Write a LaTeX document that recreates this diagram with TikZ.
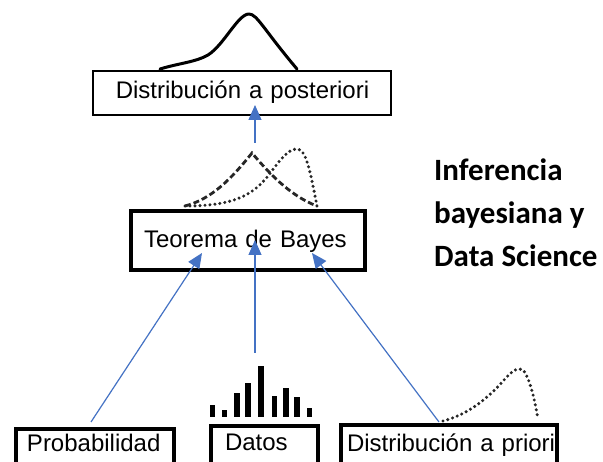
\documentclass[tikz,border=0pt]{standalone}
\usepackage{fontspec}
\setmainfont{Liberation Sans}
\newfontfamily\titlefont{Carlito}
\usetikzlibrary{arrows.meta}
\definecolor{arrblue}{HTML}{4472C4}
\begin{document}
\begin{tikzpicture}[x=1pt,y=-1pt,
  boxbase/.style={draw=black, anchor=base west, align=left, inner ysep=0pt,
    font=\fontsize{24}{28}\selectfont},
  thinbox/.style={boxbase, line width=1.5pt},
  thickbox/.style={boxbase, line width=4pt},
  arr/.style={draw=arrblue, line width=1.2pt, -{Triangle[length=15pt,width=13pt]}},
  curvesolid/.style={draw=black, line width=3pt, line join=round, line cap=round},
  curvedash/.style={draw=black!85, line width=2.8pt, dash pattern=on 6pt off 3pt},
  curvedot/.style={draw=black!85, line width=3.4pt, line cap=round, dash pattern=on 0pt off 5pt},
  bar/.style={fill=black}
]
\useasboundingbox (0,0) rectangle (603,462);
\fill[white] (0,0) rectangle (603,462);
\clip (0,0) rectangle (603,462);

% boxes
\node[thinbox, inner xsep=23pt, text width=252pt, text height=28pt, text depth=16pt]
  (post) at (92,99) {\mbox{Distribución a posteriori}};
\node[thickbox, inner xsep=13pt, text width=208pt, text height=37pt, text depth=22pt]
  (bayes) at (129,248) {\mbox{Teorema de Bayes}};
\node[thickbox, inner xsep=11pt, text width=136pt, text height=23pt, text depth=32pt]
  (prob) at (14,452) {\mbox{Probabilidad}};
\node[thickbox, inner xsep=14pt, text width=79pt, text height=24pt, text depth=32pt]
  (datos) at (209,450) {\mbox{Datos}};
\node[thickbox, inner xsep=6pt, text width=204pt, text height=27pt, text depth=32pt]
  (priori) at (339,452) {\mbox{Distribución a priori}};

% title
\node[anchor=north west, align=left, inner sep=0pt,
  font=\titlefont\bfseries\fontsize{31}{43}\selectfont]
  (title) at (434,159) {Inferencia\\bayesiana y\\Data Science};

% posterior curve
\draw[curvesolid] (160,69) .. controls (180,63) and (196,62) .. (208,55)
  .. controls (224,45) and (238,14) .. (249,14)
  .. controls (257,14) and (264,30) .. (297,69);

% bayes curves
\draw[curvedash] (185,206) .. controls (212,199) and (232,178) .. (252,153)
  .. controls (268,172) and (290,196) .. (317,206);
\draw[curvedot] (185,206) .. controls (232,206) and (252,196) .. (268,176)
  .. controls (280,160) and (288,149) .. (297,149)
  .. controls (306,149) and (310,170) .. (317,206);

% priori curve
\draw[curvedot] (443,421) .. controls (470,414) and (490,396) .. (504,380)
  .. controls (512,371) and (518,366) .. (524,371)
  .. controls (531,382) and (535,402) .. (538,419);

% data bars
\foreach \x/\t in {212.3/405, 224.3/410, 236.7/393, 247.7/383, 261/366,
  274.3/396, 285.7/388, 296.7/397, 309.3/408}{
  \fill[bar] (\x-2.8,417) rectangle (\x+2.8,\t);
}

% connector ends
\coordinate (pA) at (91,422);
\coordinate (tA) at (202,253);
\coordinate (pB) at (255,353);
\coordinate (tB) at (255,240);
\coordinate (pC) at (439,422);
\coordinate (tC) at (312,253);
\coordinate (pD) at (255,143);
\coordinate (tD) at (255,105);

\draw[arr] (pA) -- (tA);
\draw[arr] (pB) -- (tB);
\draw[arr] (pC) -- (tC);
\draw[arr] (pD) -- (tD);
\end{tikzpicture}
\end{document}
